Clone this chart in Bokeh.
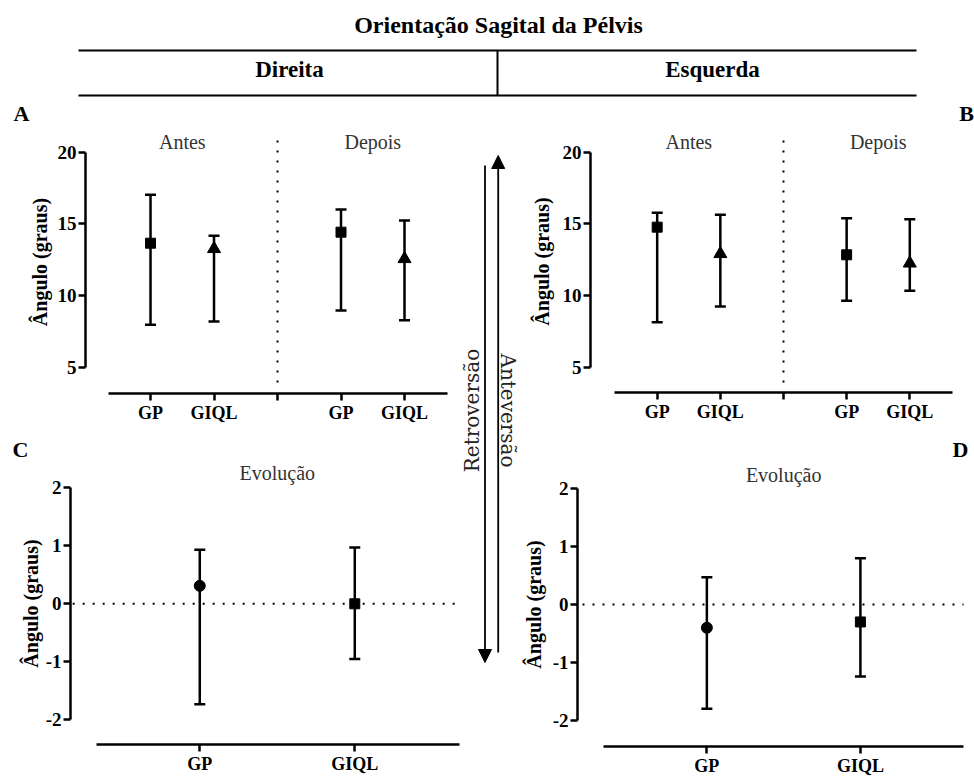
import math
from bokeh.plotting import figure
from bokeh.models import (ColumnDataSource, Whisker, TeeHead, Label, Arrow,
                          NormalHead, FixedTicker, Range1d)
from bokeh.layouts import column, row
from bokeh.embed import file_html
from bokeh.resources import INLINE

FONT = "Liberation Serif"

# ---------------- data ----------------
groups = ["GP", "GIQL"]
periods = ["Antes", "Depois"]
ticks_abs = [5, 10, 15, 20]
ticks_abs_labels = ["5", "10", "15", "20"]
ticks_evol = [-2, -1, 0, 1, 2]
ticks_evol_labels = ["-2", "-1", "0", "1", "2"]

# Direita (A) - mean, lower, upper
dir_antes_mean = [13.65, 13.26]
dir_antes_lo = [7.96, 8.19]
dir_antes_hi = [17.03, 14.17]
dir_depois_mean = [14.42, 12.56]
dir_depois_lo = [8.95, 8.28]
dir_depois_hi = [16.00, 15.23]

# Esquerda (B)
esq_antes_mean = [14.77, 12.91]
esq_antes_lo = [8.14, 9.23]
esq_antes_hi = [15.77, 15.63]
esq_depois_mean = [12.84, 12.25]
esq_depois_lo = [9.63, 10.33]
esq_depois_hi = [15.39, 15.32]

# Evolução (C direita, D esquerda)
dir_evol_mean = [0.31, 0.00]
dir_evol_lo = [-1.73, -0.95]
dir_evol_hi = [0.93, 0.97]
esq_evol_mean = [-0.40, -0.30]
esq_evol_lo = [-1.80, -1.24]
esq_evol_hi = [0.47, 0.80]

markers_abs = ["square", "triangle"]
sizes_abs = [10, 13]
markers_evol = ["circle", "square"]
sizes_evol = [11, 10]


def base_fig(w, h, xr, yr, left, right, top, bottom, axes=True):
    kw = {}
    if not axes:
        kw = dict(x_axis_type=None, y_axis_type=None)
    p = figure(width=w, height=h, x_range=Range1d(*xr), y_range=Range1d(*yr),
               output_backend="svg", toolbar_location=None, title_location=None,
               min_border_left=left, min_border_right=right,
               min_border_top=top, min_border_bottom=bottom,
               background_fill_color="white", border_fill_color="white",
               outline_line_color=None, **kw)
    p.frame_align = False
    p.grid.visible = False
    return p


def style_axes(p, xticks, xlabels, xbounds, yticks, ylabels, ybounds, ylab_standoff):
    for ax in (p.xaxis[0], p.yaxis[0]):
        ax.axis_line_width = 2.5
        ax.axis_line_color = "black"
        ax.major_tick_line_width = 2.5
        ax.major_tick_line_color = "black"
        ax.major_tick_out = 7
        ax.major_tick_in = 0
        ax.minor_tick_line_color = None
        ax.major_label_text_font = FONT
        ax.major_label_text_font_style = "bold"
        ax.major_label_text_color = "black"
        ax.major_label_standoff = 2
    xa = p.xaxis[0]
    xa.ticker = FixedTicker(ticks=xticks)
    xa.major_label_overrides = {t: l for t, l in zip(xticks, xlabels)}
    xa.bounds = xbounds
    xa.major_label_text_font_size = "18px"
    ya = p.yaxis[0]
    ya.ticker = FixedTicker(ticks=yticks)
    ya.major_label_overrides = {t: l for t, l in zip(yticks, ylabels)}
    ya.bounds = ybounds
    ya.major_label_text_font_size = "19px"
    ya.axis_label = "Ângulo (graus)"
    ya.axis_label_text_font = FONT
    ya.axis_label_text_font_style = "bold"
    ya.axis_label_text_font_size = "20px"
    ya.axis_label_text_color = "black"
    ya.axis_label_standoff = ylab_standoff


def add_series(p, xs, mean, lo, hi, markers, sizes):
    src = ColumnDataSource(dict(x=xs, mean=mean, lo=lo, hi=hi,
                                marker=markers, size=sizes))
    p.add_layout(Whisker(source=src, base="x", upper="hi", lower="lo",
                         line_width=2.5, line_color="black",
                         upper_head=TeeHead(size=11, line_width=2.5, line_color="black"),
                         lower_head=TeeHead(size=11, line_width=2.5, line_color="black")))
    p.scatter(x="x", y="mean", source=src, marker="marker", size="size",
              fill_color="black", line_color="black")


def txt(p, x, y, text, size, bold=False, color="black", angle=0.0,
        baseline="middle", font=FONT):
    p.add_layout(Label(x=x, y=y, text=text, text_font=font,
                       text_font_size=size,
                       text_font_style="bold" if bold else "normal",
                       text_color=color, text_align="center",
                       text_baseline=baseline, angle=angle))


DOT = "2 8"
SUB = "#333333"
RX = 519  # left edge of the right-hand column

# ---------------- header (y measured upward from its bottom) ----------------
pH = base_fig(974, 130, (0, 974), (0, 130), 0, 0, 0, 0, axes=False)
txt(pH, 498, 105.5, "Orientação Sagital da Pélvis", "24px", bold=True)
pH.segment(x0=[78, 78, 497], y0=[80, 35, 80], x1=[916, 916, 497], y1=[80, 35, 35],
           line_color="black", line_width=2)
txt(pH, 289, 61.5, "Direita", "23px", bold=True)
txt(pH, 712, 61.5, "Esquerda", "23px", bold=True)
txt(pH, 21, 17.5, "A", "22px", bold=True)
txt(pH, 966, 17.5, "B", "22px", bold=True)

# ---------------- panel A (Direita) ----------------
xs_antes = [i for i in range(len(groups))]
xs_depois = [i + len(groups) + 1 for i in range(len(groups))]
abs_xticks = xs_antes + [len(groups)] + xs_depois
abs_xlabels = groups + [""] + groups

pA = base_fig(460, 300, (-1.024, 4.803), (3.165, 21.514), 85, 5, 0, 37)
style_axes(pA, abs_xticks, abs_xlabels, (-0.66, 4.68), ticks_abs, ticks_abs_labels, (5, 20), 4)
pA.segment(x0=[2], y0=[3.93], x1=[2], y1=[21.37], line_color="black",
           line_width=2, line_dash=DOT)
add_series(pA, xs_antes, dir_antes_mean, dir_antes_lo, dir_antes_hi, markers_abs, sizes_abs)
add_series(pA, xs_depois, dir_depois_mean, dir_depois_lo, dir_depois_hi, markers_abs, sizes_abs)
txt(pA, 0.5, 20.68, periods[0], "20px", color=SUB)
txt(pA, 3.5, 20.68, periods[1], "20px", color=SUB)

# ---------------- panel B (Esquerda) ----------------
pB = base_fig(974 - RX, 300, (-1.056, 4.803), (3.235, 21.514), 590 - RX, 14, 0, 38)
style_axes(pB, abs_xticks, abs_xlabels, (-0.676, 4.671), ticks_abs, ticks_abs_labels, (5, 20), 7)
pB.segment(x0=[2], y0=[3.93], x1=[2], y1=[21.37], line_color="black",
           line_width=2, line_dash=DOT)
add_series(pB, xs_antes, esq_antes_mean, esq_antes_lo, esq_antes_hi, markers_abs, sizes_abs)
add_series(pB, xs_depois, esq_depois_mean, esq_depois_lo, esq_depois_hi, markers_abs, sizes_abs)
txt(pB, 0.5, 20.68, periods[0], "20px", color=SUB)
txt(pB, 3.5, 20.68, periods[1], "20px", color=SUB)

# ---------------- strips holding the C / D letters ----------------
sC = base_fig(460, 32, (0, 460), (0, 32), 0, 0, 0, 0, axes=False)
txt(sC, 20, 13, "C", "22px", bold=True)
sD = base_fig(974 - RX, 32, (RX, 974), (0, 32), 0, 0, 0, 0, axes=False)
txt(sD, 960, 13, "D", "22px", bold=True)

# ---------------- panel C (Evolução direita) ----------------
xs_evol = [i for i in range(len(groups))]
pC = base_fig(460, 316, (-0.834, 1.682), (-2.426, 2.436), 70, 0, 0, 34)
style_axes(pC, xs_evol, groups, (-0.667, 1.675), ticks_evol, ticks_evol_labels, (-2, 2), 1)
pC.segment(x0=[-0.82], y0=[0], x1=[1.682], y1=[0], line_color="black",
           line_width=2, line_dash=DOT)
add_series(pC, xs_evol, dir_evol_mean, dir_evol_lo, dir_evol_hi, markers_evol, sizes_evol)
txt(pC, 0.5, 2.247, "Evolução", "20px", color=SUB)

# ---------------- panel D (Evolução esquerda) ----------------
pD = base_fig(974 - RX, 316, (-0.8425, 1.743), (-2.451, 2.454), 575 - RX, 0, 0, 32)
style_axes(pD, xs_evol, groups, (-0.674, 1.672), ticks_evol, ticks_evol_labels, (-2, 2), 5)
pD.segment(x0=[-0.81], y0=[0], x1=[1.672], y1=[0], line_color="black",
           line_width=2, line_dash=DOT)
add_series(pD, xs_evol, esq_evol_mean, esq_evol_lo, esq_evol_hi, markers_evol, sizes_evol)
txt(pD, 0.5, 2.23, "Evolução", "20px", color=SUB)

# ---------------- middle arrows (y measured upward from page bottom) ----------------
pM = base_fig(RX - 460, 648, (460, RX), (0, 648), 0, 0, 0, 0, axes=False)
pM.add_layout(Arrow(end=NormalHead(size=13, fill_color="black", line_color="black"),
                    x_start=484.5, y_start=613, x_end=484.5, y_end=116,
                    line_width=1.8, line_color="black"))
pM.add_layout(Arrow(end=NormalHead(size=13, fill_color="black", line_color="black"),
                    x_start=497.7, y_start=126, x_end=497.7, y_end=623,
                    line_width=1.8, line_color="black"))
txt(pM, 471.5, 368, "Retroversão", "20px", color="#222222", angle=math.pi / 2,
    font="DejaVu Serif")
txt(pM, 507.5, 368, "Anteversão", "20px", color="#222222", angle=-math.pi / 2,
    font="DejaVu Serif")

layout = column(pH, row(column(pA, sC, pC), pM, column(pB, sD, pD)))

open("out.html", "w").write(file_html(layout, INLINE))
